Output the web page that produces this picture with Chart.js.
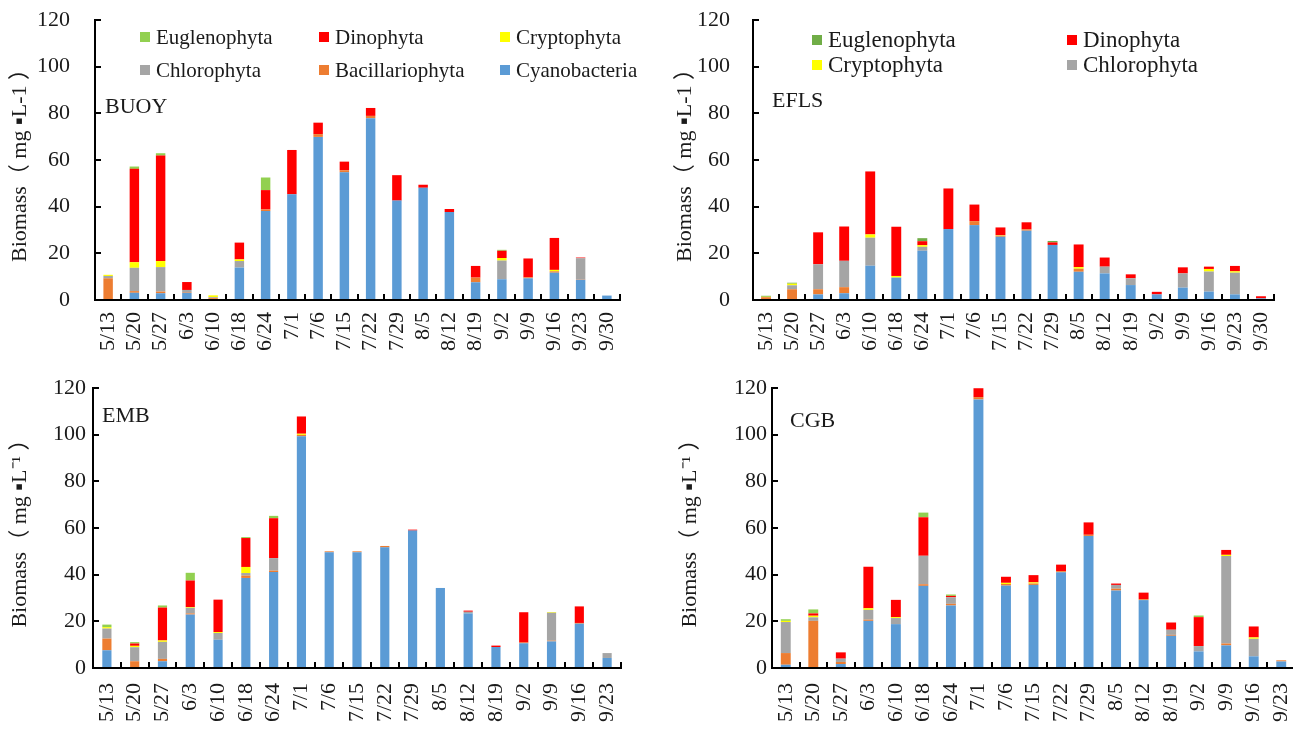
<!DOCTYPE html>
<html lang="en">
<head>
<meta charset="UTF-8">
<title>Phytoplankton biomass</title>
<script src="https://cdn.jsdelivr.net/npm/chart.js@4.4.0/dist/chart.umd.min.js"></script>
<style>
  body { margin: 0; width: 1293px; height: 733px; overflow: hidden; background: #fff; position: relative;
         font-family: 'Liberation Serif', 'Times New Roman', serif; color: #1a1a1a; }
  .panel { position: absolute; }
  .tag { position: absolute; font-size: 22px; line-height: 22px; }
  .leg { position: absolute; display: flex; align-items: center; white-space: nowrap; line-height: 22px; }
  .leg i { display: inline-block; width: 10px; height: 10px; margin-right: 6px; }
</style>
</head>
<body>
<div class="panel" style="left:0;top:0"><canvas id="buoy" width="650" height="375"></canvas></div>
<div class="panel" style="left:665px;top:0"><canvas id="efls" width="628" height="375"></canvas></div>
<div class="panel" style="left:0;top:375px"><canvas id="emb" width="650" height="358"></canvas></div>
<div class="panel" style="left:665px;top:375px;width:640px"><canvas id="cgb" width="640" height="358"></canvas></div>

<div class="tag" style="left:105px;top:95px">BUOY</div>
<div class="tag" style="left:772px;top:89px">EFLS</div>
<div class="tag" style="left:102px;top:404px">EMB</div>
<div class="tag" style="left:790px;top:409px">CGB</div>
<div id="legends"></div>

<script>
const datesTop = ['5/13','5/20','5/27','6/3','6/10','6/18','6/24','7/1','7/6','7/15','7/22','7/29','8/5','8/12','8/19','9/2','9/9','9/16','9/23','9/30'];
const datesBottom = ['5/13','5/20','5/27','6/3','6/10','6/18','6/24','7/1','7/6','7/15','7/22','7/29','8/5','8/12','8/19','9/2','9/9','9/16','9/23'];

// stack order, bottom to top
const groups = ['Cyanobacteria','Bacillariophyta','Chlorophyta','Cryptophyta','Dinophyta','Euglenophyta'];
const colors = ['#5B9BD5','#ED7D31','#A5A5A5','#FFFF00','#FF0000','#92D050'];
const colorsEfls = ['#5B9BD5','#ED7D31','#A5A5A5','#FFFF00','#FF0000','#70AD47'];
const yTicks = [0, 20, 40, 60, 80, 100, 120];

// BUOY
const buoyCyano  = [0, 3.1, 2.9, 3.1, 0, 13.9, 38.1, 45.3, 69.9, 54.7, 77.9, 42.6, 48.1, 37.7, 7.6, 8.9, 9.3, 11.7, 8.7, 1.9];
const buoyBacil  = [9.3, 0.7, 0.7, 0.3, 0.8, 0, 0.7, 0, 1.2, 0.9, 1, 0, 0, 0, 2, 0, 0.4, 0.6, 0.2, 0];
const buoyChloro = [1, 10, 10.5, 0.9, 0.4, 2.8, 0, 0, 0, 0, 0, 0, 0, 0, 0, 8, 0, 0, 9, 0];
const buoyCrypto = [0.5, 2.4, 2.6, 0, 0.8, 0.7, 0, 0, 0, 0, 0, 0, 0, 0, 0, 1.1, 0, 0.6, 0, 0];
const buoyDino   = [0, 40, 45.2, 3.4, 0, 7.2, 8.3, 19, 4.9, 3.7, 3.4, 10.9, 1.3, 1.3, 5, 3.1, 8.1, 13.7, 0.3, 0];
const buoyEugl   = [0, 1, 1, 0, 0, 0, 5.4, 0, 0, 0, 0, 0, 0, 0, 0, 0.4, 0, 0, 0, 0];

// EFLS
const eflsCyano  = [0, 0, 2.4, 2.9, 14.7, 9.6, 21.1, 30.4, 32.1, 27.1, 29.7, 23.6, 12.1, 11.4, 6.4, 2.4, 5.3, 3.6, 2.4, 0.7];
const eflsBacil  = [1.2, 4.6, 2.2, 2.6, 0, 0, 0, 0, 1.7, 0.5, 0.6, 0, 1.3, 0, 0, 0, 0, 0, 0, 0];
const eflsChloro = [0, 1.7, 10.7, 11.3, 12, 0, 1.7, 0, 0, 0, 0, 0, 0, 2.9, 2.9, 0, 6.1, 8.6, 9.3, 0];
const eflsCrypto = [0.2, 0.7, 0, 0, 1.4, 0.7, 0.7, 0, 0, 0.2, 0, 0, 0.7, 0, 0, 0, 0, 1.1, 0.6, 0];
const eflsDino   = [0, 0, 13.7, 14.7, 27, 21.1, 1.7, 17.4, 7.1, 3.3, 3, 1.1, 9.7, 3.9, 1.7, 1.1, 2.6, 1, 2.3, 0.9];
const eflsEugl   = [0.4, 0.4, 0, 0, 0, 0, 1.3, 0, 0, 0, 0, 0.6, 0, 0, 0, 0, 0, 0, 0, 0];

// EMB
const embCyano  = [7.6, 0, 2.9, 22.9, 12.1, 38.6, 41.1, 99.3, 49.6, 49.6, 51.7, 58.9, 34.3, 23.4, 9, 10.6, 11.4, 19, 4.3];
const embBacil  = [5, 2.9, 1, 0.5, 0, 1, 0.6, 0.6, 0.4, 0.4, 0.6, 0, 0, 0, 0, 0.3, 0.3, 0.3, 0];
const embChloro = [4.3, 6, 7.3, 2.4, 2.9, 1.1, 5.4, 0, 0, 0, 0, 0, 0, 0.7, 0, 0, 12, 0, 2.1];
const embCrypto = [0.6, 0.6, 0.6, 0.3, 0.4, 2.6, 0, 0.5, 0, 0, 0, 0, 0, 0, 0, 0, 0.3, 0, 0];
const embDino   = [0, 1, 14.1, 11.4, 13.9, 12.4, 17.1, 7.4, 0, 0, 0, 0.4, 0, 0.5, 0.6, 13, 0, 7.1, 0];
const embEugl   = [1.1, 0.6, 0.9, 3.3, 0, 0.4, 1, 0, 0, 0, 0, 0, 0, 0, 0, 0, 0, 0, 0];

// CGB
const cgbCyano  = [1.4, 0, 1.7, 20.2, 18.8, 35.2, 26.8, 115.1, 35.3, 35.6, 41, 56.6, 33.2, 29.1, 13.8, 7.1, 9.7, 5, 2.8];
const cgbBacil  = [5, 20.2, 0.9, 0.5, 0, 0.7, 0.7, 1, 0.7, 0.6, 0.5, 0.5, 0.8, 0.4, 0.4, 0, 0.8, 0, 0.5];
const cgbChloro = [13.3, 1.5, 1.4, 4.2, 2.6, 12.2, 2.8, 0, 0, 0, 0, 0, 1.6, 0, 2.2, 2.3, 37.5, 7.5, 0];
const cgbCrypto = [0.5, 0.7, 0, 0.7, 0.4, 0, 0, 0, 0.5, 0.5, 0, 0, 0, 0, 0, 0, 0.5, 0.6, 0];
const cgbDino   = [0, 1, 2.7, 17.8, 7.4, 16.5, 0.6, 3.8, 2.6, 3.1, 2.8, 5.3, 0.6, 2.8, 3.1, 12.4, 2.1, 4.7, 0];
const cgbEugl   = [0.7, 1.7, 0, 0, 0, 2, 0.6, 0, 0, 0, 0, 0, 0, 0, 0, 0.7, 0, 0, 0];

const FONT = "'Liberation Serif', 'Noto Sans CJK SC', serif";
const INK = '#1a1a1a';

function makeChart(id, labels, series, cols, cfg) {
    const ctx = document.getElementById(id).getContext('2d');
    return new Chart(ctx, {
        type: 'bar',
        data: {
            labels: labels,
            datasets: series.map((d, i) => ({
                label: groups[i],
                data: d,
                backgroundColor: cols[i],
                borderWidth: 0,
                barPercentage: 1,
                categoryPercentage: cfg.barPct
            }))
        },
        options: {
            responsive: false,
            animation: false,
            layout: { padding: { top: cfg.top, right: cfg.right, left: 0, bottom: 0 } },
            plugins: { legend: { display: false }, tooltip: { enabled: false } },
            scales: {
                x: {
                    stacked: true,
                    grid: { drawOnChartArea: false, tickLength: -6, color: '#000', lineWidth: 2, offset: true },
                    border: { color: '#000', width: 2 },
                    ticks: { minRotation: 90, maxRotation: 90, autoSkip: false, padding: cfg.xPad, color: INK,
                             font: { family: FONT, size: 22 } },
                    afterFit: s => { s.height = cfg.xHeight; s.paddingLeft = 0; s.paddingRight = 0; }
                },
                y: {
                    stacked: true,
                    min: 0, max: 120,
                    afterBuildTicks: s => { s.ticks = yTicks.map(v => ({ value: v })); },
                    grid: { drawOnChartArea: false, tickLength: -6, color: '#000', lineWidth: 2 },
                    border: { color: '#000', width: 2 },
                    ticks: { padding: cfg.yPad, color: INK, font: { family: FONT, size: 22 } },
                    title: { display: true, text: cfg.title, color: INK,
                             font: { family: FONT, size: 22 }, padding: { top: cfg.titlePad, bottom: 0 } },
                    afterFit: s => { s.width = cfg.yWidth; s.paddingTop = 0; s.paddingBottom = 0; }
                }
            }
        }
    });
}

makeChart('buoy', datesTop, [buoyCyano, buoyBacil, buoyChloro, buoyCrypto, buoyDino, buoyEugl], colors,
    { top: 20, right: 30, xHeight: 75, xPad: 18, yWidth: 95, yPad: 31, titlePad: 7, barPct: 0.36, title: 'Biomass（ mg ▪L-1 ）' });
makeChart('efls', datesTop, [eflsCyano, eflsBacil, eflsChloro, eflsCrypto, eflsDino, eflsEugl], colorsEfls,
    { top: 20, right: 19, xHeight: 75, xPad: 18, yWidth: 88, yPad: 29, titlePad: 7, barPct: 0.38, title: 'Biomass（ mg ▪L-1 ）' });
makeChart('emb', datesBottom, [embCyano, embBacil, embChloro, embCrypto, embDino, embEugl], colors,
    { top: 13, right: 29, xHeight: 65, xPad: 21, yWidth: 93, yPad: 13, titlePad: 7, barPct: 0.33, title: 'Biomass（ mg ▪L⁻¹ ）' });
makeChart('cgb', datesBottom, [cgbCyano, cgbBacil, cgbChloro, cgbCrypto, cgbDino, cgbEugl], colors,
    { top: 13, right: 10, xHeight: 65, xPad: 21, yWidth: 107, yPad: 11, titlePad: 12, barPct: 0.36, title: 'Biomass（ mg ▪L⁻¹ ）' });

// HTML legends (reverse stack order, laid out in a grid like the original)
const legendBuoy = [
    { i: 5, x: 140, y: 26 }, { i: 4, x: 319, y: 26 }, { i: 3, x: 500, y: 26 },
    { i: 2, x: 140, y: 59 }, { i: 1, x: 319, y: 59 }, { i: 0, x: 500, y: 59 }
];
const legendEfls = [
    { i: 5, x: 812, y: 29 }, { i: 4, x: 1067, y: 29 },
    { i: 3, x: 812, y: 54 }, { i: 2, x: 1067, y: 54 }
];
const host = document.getElementById('legends');
function addLegend(items, cols, size) {
    items.forEach(it => {
        const el = document.createElement('div');
        el.className = 'leg';
        el.style.left = it.x + 'px';
        el.style.top = it.y + 'px';
        el.style.fontSize = size + 'px';
        el.innerHTML = '<i style="background:' + cols[it.i] + '"></i>' + groups[it.i];
        host.appendChild(el);
    });
}
addLegend(legendBuoy, colors, 21);
addLegend(legendEfls, colorsEfls, 23);
</script>
</body>
</html>
